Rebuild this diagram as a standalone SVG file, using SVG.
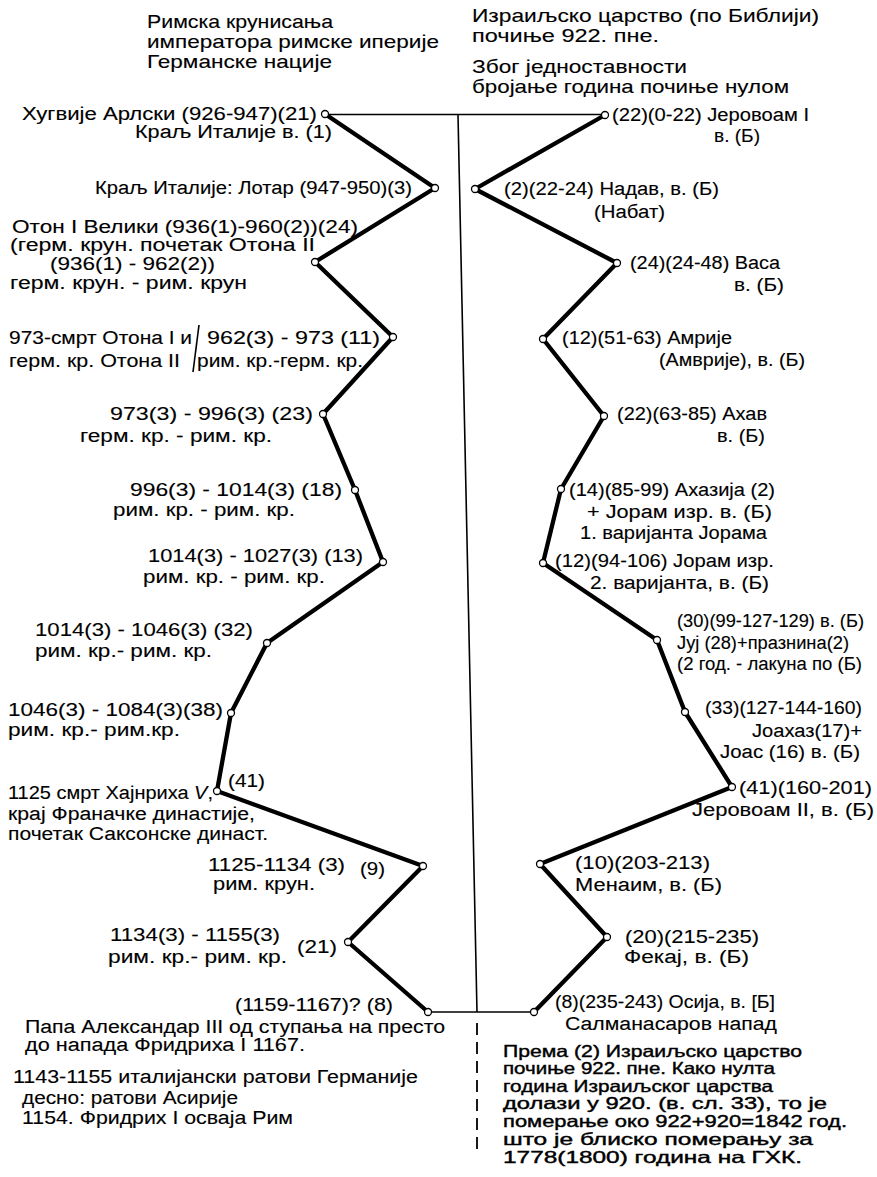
<svg xmlns="http://www.w3.org/2000/svg" width="877" height="1177" viewBox="0 0 877 1177" xml:space="preserve">
<style>
text{font-family:"Liberation Sans",Arial,Helvetica,sans-serif;font-size:18px;fill:#000;stroke:#000;stroke-width:0.12}
.h{font-size:19px}
.b{font-size:16.5px;stroke-width:0.4}
.thick{stroke:#000;stroke-width:4.3;fill:none;stroke-linejoin:round}
.thin{stroke:#000;stroke-width:1.6;fill:none}
.dash{stroke:#000;stroke-width:1.8;fill:none;stroke-dasharray:12 7}
circle{fill:#fff;stroke:#000;stroke-width:1.3}
</style>
<rect width="877" height="1177" fill="#fff"/>
<g id="headers">
<text class="h" x="147" y="28" textLength="186" lengthAdjust="spacingAndGlyphs">Римска крунисања</text>
<text class="h" x="147" y="48" textLength="292" lengthAdjust="spacingAndGlyphs">императора римске иперије</text>
<text class="h" x="147" y="68" textLength="185" lengthAdjust="spacingAndGlyphs">Германске нације</text>
<text class="h" x="472" y="22" textLength="347" lengthAdjust="spacingAndGlyphs">Израиљско царство  (по Библији)</text>
<text class="h" x="472" y="42" textLength="187" lengthAdjust="spacingAndGlyphs">почиње 922. пне.</text>
<text class="h" x="472" y="73" textLength="215" lengthAdjust="spacingAndGlyphs">Због једноставности</text>
<text class="h" x="472" y="93" textLength="317" lengthAdjust="spacingAndGlyphs">бројање година почиње нулом</text>
</g>
<g id="connectors">
<path class="thin" d="M328 114.5 L602 114.5"/>
<path class="thin" d="M431 1012 L531 1012"/>
<path class="thin" d="M458 115 L477 1012"/>
<path class="dash" d="M477 1023 L477 1150"/>
<path class="thin" d="M199 325 L193 372"/>
<polyline class="thick" points="325,114 435,188 315,262 393,337 323,414 355,490 383,562 267,643 231,713 217,791 423,866 348,942 428,1012"/>
<polyline class="thick" points="605,115 475,189 617,263 543,339 604,416 561,489 543,563 657,640 685,712 732,787 540,864 607,937 534,1012"/>
</g>
<g id="L1"><circle cx="325" cy="114" r="3.5"/>
<text x="22" y="120" textLength="295" lengthAdjust="spacingAndGlyphs">Хугвије Арлски (926-947)(21)</text>
<text x="135" y="138" textLength="197" lengthAdjust="spacingAndGlyphs">Краљ Италије  в. (1)</text></g>
<g id="L2"><circle cx="435" cy="188" r="3.5"/>
<text x="95" y="194" textLength="317" lengthAdjust="spacingAndGlyphs">Краљ Италије: Лотар (947-950)(3)</text></g>
<g id="L3"><circle cx="315" cy="262" r="3.5"/>
<text x="12" y="233" textLength="346" lengthAdjust="spacingAndGlyphs">Отон I  Велики (936(1)-960(2))(24)</text>
<text x="10" y="251" textLength="305" lengthAdjust="spacingAndGlyphs">(герм. крун. почетак Отона II</text>
<text x="50" y="270" textLength="165" lengthAdjust="spacingAndGlyphs">(936(1) - 962(2))</text>
<text x="10" y="289" textLength="237" lengthAdjust="spacingAndGlyphs">герм. крун. - рим. крун</text></g>
<g id="L4"><circle cx="393" cy="337" r="3.5"/>
<text x="9" y="344" textLength="183" lengthAdjust="spacingAndGlyphs">973-смрт Отона I  и</text>
<text x="207" y="344" textLength="173" lengthAdjust="spacingAndGlyphs">962(3) - 973   (11)</text>
<text x="9" y="367" textLength="171" lengthAdjust="spacingAndGlyphs">герм. кр. Отона II</text>
<text x="197" y="367" textLength="166" lengthAdjust="spacingAndGlyphs">рим. кр.-герм. кр.</text></g>
<g id="L5"><circle cx="323" cy="414" r="3.5"/>
<text x="110" y="420" textLength="203" lengthAdjust="spacingAndGlyphs">973(3) - 996(3)  (23)</text>
<text x="80" y="442" textLength="192" lengthAdjust="spacingAndGlyphs">герм. кр. - рим. кр.</text></g>
<g id="L6"><circle cx="355" cy="490" r="3.5"/>
<text x="130" y="496" textLength="212" lengthAdjust="spacingAndGlyphs">996(3) - 1014(3)  (18)</text>
<text x="113" y="516" textLength="182" lengthAdjust="spacingAndGlyphs">рим. кр. - рим. кр.</text></g>
<g id="L7"><circle cx="383" cy="562" r="3.5"/>
<text x="148" y="562" textLength="215" lengthAdjust="spacingAndGlyphs">1014(3) - 1027(3) (13)</text>
<text x="143" y="583" textLength="182" lengthAdjust="spacingAndGlyphs">рим. кр. - рим. кр.</text></g>
<g id="L8"><circle cx="267" cy="643" r="3.5"/>
<text x="35" y="636" textLength="218" lengthAdjust="spacingAndGlyphs">1014(3) - 1046(3)  (32)</text>
<text x="35" y="657" textLength="177" lengthAdjust="spacingAndGlyphs">рим. кр.- рим. кр.</text></g>
<g id="L9"><circle cx="231" cy="713" r="3.5"/>
<text x="8" y="716" textLength="215" lengthAdjust="spacingAndGlyphs">1046(3) - 1084(3)(38)</text>
<text x="8" y="736" textLength="172" lengthAdjust="spacingAndGlyphs">рим. кр.- рим.кр.</text></g>
<g id="L10"><circle cx="217" cy="791" r="3.5"/>
<text x="228" y="787" textLength="37" lengthAdjust="spacingAndGlyphs">(41)</text>
<text x="8" y="799" textLength="205" lengthAdjust="spacingAndGlyphs">1125 смрт Хајнриха <tspan font-style="italic">V</tspan>,</text>
<text x="8" y="820" textLength="247" lengthAdjust="spacingAndGlyphs">крај Франачке династије,</text>
<text x="8" y="840" textLength="260" lengthAdjust="spacingAndGlyphs">почетак Саксонске династ.</text></g>
<g id="L11"><circle cx="423" cy="866" r="3.5"/>
<text x="208" y="871" textLength="137" lengthAdjust="spacingAndGlyphs">1125-1134 (3)</text>
<text x="360" y="875" textLength="25" lengthAdjust="spacingAndGlyphs">(9)</text>
<text x="213" y="890" textLength="102" lengthAdjust="spacingAndGlyphs">рим. крун.</text></g>
<g id="L12"><circle cx="348" cy="942" r="3.5"/>
<text x="110" y="941" textLength="170" lengthAdjust="spacingAndGlyphs">1134(3) - 1155(3)</text>
<text x="297" y="953" textLength="40" lengthAdjust="spacingAndGlyphs">(21)</text>
<text x="108" y="963" textLength="179" lengthAdjust="spacingAndGlyphs">рим. кр.- рим. кр.</text></g>
<g id="L13"><circle cx="428" cy="1012" r="3.5"/>
<text x="235" y="1011" textLength="158" lengthAdjust="spacingAndGlyphs">(1159-1167)? (8)</text>
<text x="25" y="1033" textLength="420" lengthAdjust="spacingAndGlyphs">Папа Александар III од  ступања на престо</text>
<text x="25" y="1051" textLength="280" lengthAdjust="spacingAndGlyphs">до напада  Фридриха I  1167.</text></g>
<g id="notes-left">
<text x="13" y="1083" textLength="405" lengthAdjust="spacingAndGlyphs">1143-1155 италијански  ратови Германије</text>
<text x="22" y="1104" textLength="216" lengthAdjust="spacingAndGlyphs">десно: ратови Асирије</text>
<text x="22" y="1124" textLength="271" lengthAdjust="spacingAndGlyphs">1154. Фридрих I  осваја  Рим</text>
</g>
<g id="R1"><circle cx="605" cy="115" r="3.5"/>
<text x="612" y="121" textLength="197" lengthAdjust="spacingAndGlyphs">(22)(0-22) Јеровоам I</text>
<text x="714" y="142" textLength="46" lengthAdjust="spacingAndGlyphs">в. (Б)</text></g>
<g id="R2"><circle cx="475" cy="189" r="3.5"/>
<text x="504" y="195" textLength="215" lengthAdjust="spacingAndGlyphs">(2)(22-24) Надав, в. (Б)</text>
<text x="594" y="218" textLength="71" lengthAdjust="spacingAndGlyphs">(Набат)</text></g>
<g id="R3"><circle cx="617" cy="263" r="3.5"/>
<text x="630" y="269" textLength="150" lengthAdjust="spacingAndGlyphs">(24)(24-48) Васа</text>
<text x="734" y="291" textLength="50" lengthAdjust="spacingAndGlyphs">в. (Б)</text></g>
<g id="R4"><circle cx="543" cy="339" r="3.5"/>
<text x="562" y="344" textLength="170" lengthAdjust="spacingAndGlyphs">(12)(51-63) Амрије</text>
<text x="659" y="366" textLength="146" lengthAdjust="spacingAndGlyphs">(Амврије), в. (Б)</text></g>
<g id="R5"><circle cx="604" cy="416" r="3.5"/>
<text x="617" y="420" textLength="150" lengthAdjust="spacingAndGlyphs">(22)(63-85) Ахав</text>
<text x="717" y="442" textLength="48" lengthAdjust="spacingAndGlyphs">в. (Б)</text></g>
<g id="R6"><circle cx="561" cy="489" r="3.5"/>
<text x="569" y="496" textLength="206" lengthAdjust="spacingAndGlyphs">(14)(85-99) Ахазија (2)</text>
<text x="587" y="518" textLength="185" lengthAdjust="spacingAndGlyphs">+ Јорам изр.    в. (Б)</text>
<text x="580" y="539" textLength="187" lengthAdjust="spacingAndGlyphs">1. варијанта Јорама</text></g>
<g id="R7"><circle cx="543" cy="563" r="3.5"/>
<text x="555" y="567" textLength="219" lengthAdjust="spacingAndGlyphs">(12)(94-106) Јорам изр.</text>
<text x="590" y="589" textLength="179" lengthAdjust="spacingAndGlyphs">2. варијанта,  в. (Б)</text></g>
<g id="R8"><circle cx="657" cy="640" r="3.5"/>
<text x="677" y="627" textLength="187" lengthAdjust="spacingAndGlyphs">(30)(99-127-129) в. (Б)</text>
<text x="677" y="649" textLength="172" lengthAdjust="spacingAndGlyphs">Јуј (28)+празнина(2)</text>
<text x="677" y="670" textLength="185" lengthAdjust="spacingAndGlyphs">(2 год. - лакуна по (Б)</text></g>
<g id="R9"><circle cx="685" cy="712" r="3.5"/>
<text x="705" y="714" textLength="157" lengthAdjust="spacingAndGlyphs">(33)(127-144-160)</text>
<text x="752" y="737" textLength="110" lengthAdjust="spacingAndGlyphs">Јоахаз(17)+</text>
<text x="720" y="758" textLength="140" lengthAdjust="spacingAndGlyphs">Јоас (16)  в. (Б)</text></g>
<g id="R10"><circle cx="732" cy="787" r="3.5"/>
<text x="739" y="794" textLength="133" lengthAdjust="spacingAndGlyphs">(41)(160-201)</text>
<text x="692" y="816" textLength="182" lengthAdjust="spacingAndGlyphs">Јеровоам II, в. (Б)</text></g>
<g id="R11"><circle cx="540" cy="864" r="3.5"/>
<text x="575" y="869" textLength="135" lengthAdjust="spacingAndGlyphs">(10)(203-213)</text>
<text x="575" y="891" textLength="147" lengthAdjust="spacingAndGlyphs">Менаим, в. (Б)</text></g>
<g id="R12"><circle cx="607" cy="937" r="3.5"/>
<text x="625" y="943" textLength="134" lengthAdjust="spacingAndGlyphs">(20)(215-235)</text>
<text x="624" y="963" textLength="125" lengthAdjust="spacingAndGlyphs">Фекај, в. (Б)</text></g>
<g id="R13"><circle cx="534" cy="1012" r="3.5"/>
<text x="555" y="1008" textLength="220" lengthAdjust="spacingAndGlyphs">(8)(235-243) Осија, в. [Б]</text>
<text x="565" y="1030" textLength="212" lengthAdjust="spacingAndGlyphs">Салманасаров напад</text></g>
<g id="notes-right">
<text class="b" x="503" y="1057" textLength="299" lengthAdjust="spacingAndGlyphs">Према (2) Израиљско царство</text>
<text class="b" x="503" y="1074" textLength="272" lengthAdjust="spacingAndGlyphs">почиње 922. пне. Како нулта</text>
<text class="b" x="503" y="1092" textLength="270" lengthAdjust="spacingAndGlyphs">година Израиљског царства</text>
<text class="b" x="503" y="1109" textLength="324" lengthAdjust="spacingAndGlyphs">долази у 920. (в. сл. 33), то је</text>
<text class="b" x="503" y="1127" textLength="344" lengthAdjust="spacingAndGlyphs">померање око 922+920=1842 год.</text>
<text class="b" x="503" y="1145" textLength="310" lengthAdjust="spacingAndGlyphs">што је блиско померању за</text>
<text class="b" x="503" y="1163" textLength="299" lengthAdjust="spacingAndGlyphs">1778(1800) година на ГХК.</text>
</g>
</svg>
